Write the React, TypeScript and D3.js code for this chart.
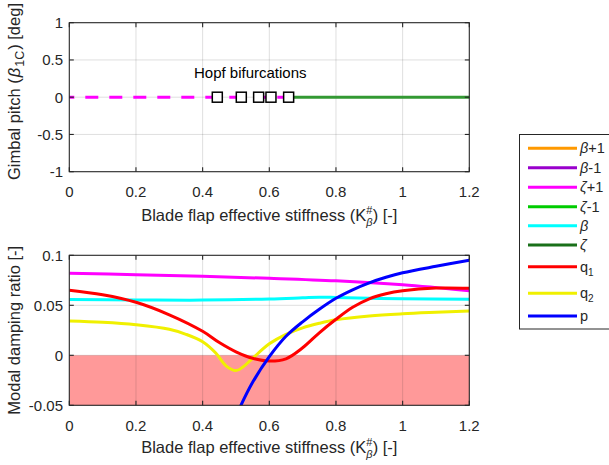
import React from "react";
import * as d3 from "d3";

// ---------- data ----------
const xTicks = [0, 0.2, 0.4, 0.6, 0.8, 1, 1.2];
const xTickLabels = ["0", "0.2", "0.4", "0.6", "0.8", "1", "1.2"];
const topYTicks = [-1, -0.5, 0, 0.5, 1];
const topYTickLabels = ["-1", "-0.5", "0", "0.5", "1"];
const botYTicks = [-0.05, 0, 0.05, 0.1];
const botYTickLabels = ["-0.05", "0", "0.05", "0.1"];

// top plot: equilibrium branches
const unstableK = [0, 0.66];
const stableK = [0.66, 1.2];
const hopfK = [0.444, 0.516, 0.568, 0.605, 0.658];

// bottom plot: modal damping ratios
const zetaPlusK = [0, 0.2, 0.4, 0.6, 0.8, 1.0, 1.2];
const zetaPlusV = [0.082, 0.0806, 0.079, 0.077, 0.0745, 0.0705, 0.0645];

const betaK = [0, 0.2, 0.4, 0.6, 0.7, 0.75, 0.8, 0.9, 1.0, 1.2];
const betaV = [0.0557, 0.0554, 0.0552, 0.0563, 0.0575, 0.0581, 0.0578, 0.057, 0.0565, 0.056];

const q1K = [0, 0.1, 0.2, 0.3, 0.4, 0.45, 0.5, 0.55, 0.6, 0.65, 0.7, 0.75, 0.8, 0.85, 0.9, 0.95, 1.0, 1.1, 1.2];
const q1V = [0.065, 0.0605, 0.053, 0.0405, 0.024, 0.0128, 0.0035, -0.003, -0.0058, -0.0035, 0.0075, 0.0225, 0.036, 0.048, 0.0565, 0.0615, 0.0645, 0.0672, 0.067];

const q2K = [0, 0.1, 0.2, 0.3, 0.35, 0.4, 0.44, 0.47, 0.5, 0.52, 0.55, 0.6, 0.65, 0.7, 0.75, 0.8, 0.9, 1.0, 1.1, 1.2];
const q2V = [0.0343, 0.033, 0.0305, 0.026, 0.021, 0.0135, 0.002, -0.0105, -0.0153, -0.012, -0.003, 0.0115, 0.021, 0.0275, 0.032, 0.0355, 0.0393, 0.0415, 0.043, 0.0443];

const pK = [0.512, 0.55, 0.6, 0.65, 0.7, 0.75, 0.8, 0.85, 0.9, 0.95, 1.0, 1.1, 1.2];
const pV = [-0.052, -0.027, -0.0014, 0.019, 0.0335, 0.046, 0.057, 0.0655, 0.0725, 0.078, 0.0825, 0.089, 0.095];

const legendLabels = ["β+1", "β-1", "ζ+1", "ζ-1", "β", "ζ", "q1", "q2", "p"];
const legendColors = ["#ff9900", "#9900cc", "#ff00ff", "#00cc00", "#00ffff", "#1a701a", "#ff0000", "#f0f000", "#0000ff"];

// ---------- layout ----------
const FONT = "'Liberation Sans', Arial, Helvetica, sans-serif";
const AX = "#262626";
const GRID = "rgba(38,38,38,0.15)";
const X0 = 69.3, X1 = 469.3;

const x = d3.scaleLinear().domain([0, 1.2]).range([X0, X1]);
const yTop = d3.scaleLinear().domain([-1, 1]).range([171.7, 22.7]);
const yBot = d3.scaleLinear().domain([-0.05, 0.1]).range([405.3, 255.3]);

function zip(k: number[], v: number[]) {
  return k.map((kk, i) => [kk, v[i]] as [number, number]);
}

const lineBot = d3
  .line<[number, number]>()
  .x((d) => x(d[0]))
  .y((d) => yBot(d[1]))
  .curve(d3.curveCatmullRom.alpha(0.5));

const lineTop = d3
  .line<[number, number]>()
  .x((d) => x(d[0]))
  .y((d) => yTop(d[1]));

function Grid({ y, yTicks }: { y: d3.ScaleLinear<number, number>; yTicks: number[] }) {
  const [yb, yt] = y.range();
  return (
    <g>
      {xTicks.slice(1, -1).map((t) => (
        <line key={"gx" + t} x1={x(t)} x2={x(t)} y1={yt} y2={yb} stroke={GRID} strokeWidth={1} />
      ))}
      {yTicks.slice(1, -1).map((t) => (
        <line key={"gy" + t} x1={X0} x2={X1} y1={y(t)} y2={y(t)} stroke={GRID} strokeWidth={1} />
      ))}
    </g>
  );
}

function Frame({ y, yTicks, yLabels, labelBaseline }: { y: d3.ScaleLinear<number, number>; yTicks: number[]; yLabels: string[]; labelBaseline: number }) {
  const [yb, yt] = y.range();
  const tl = 4.5;
  return (
    <g>
      <rect x={X0} y={yt} width={X1 - X0} height={yb - yt} fill="none" stroke={AX} strokeWidth={1.1} />
      {xTicks.map((t, i) => (
        <g key={"xt" + i}>
          <line x1={x(t)} x2={x(t)} y1={yb} y2={yb - tl} stroke={AX} strokeWidth={1.1} />
          <line x1={x(t)} x2={x(t)} y1={yt} y2={yt + tl} stroke={AX} strokeWidth={1.1} />
          <text x={x(t)} y={yb + 25.5} textAnchor="middle" fontSize={15} fill={AX} fontFamily={FONT}>
            {xTickLabels[i]}
          </text>
        </g>
      ))}
      {yTicks.map((t, i) => (
        <g key={"yt" + i}>
          <line x1={X0} x2={X0 + tl} y1={y(t)} y2={y(t)} stroke={AX} strokeWidth={1.1} />
          <line x1={X1} x2={X1 - tl} y1={y(t)} y2={y(t)} stroke={AX} strokeWidth={1.1} />
          <text x={63} y={y(t) + 5.3} textAnchor="end" fontSize={15} fill={AX} fontFamily={FONT}>
            {yLabels[i]}
          </text>
        </g>
      ))}
      <text x={(X0 + X1) / 2} y={labelBaseline} textAnchor="middle" fontSize={16.5} fill={AX} fontFamily={FONT}>
        Blade flap effective stiffness (K
        <tspan fontSize={11} dy={-7}>#</tspan>
        <tspan fontSize={11} dx={-6} dy={12} fontStyle="italic">β</tspan>
        <tspan dy={-5}>) [-]</tspan>
      </text>
    </g>
  );
}

export default function App() {
  const yBotMid = (yBot.range()[0] + yBot.range()[1]) / 2;
  const legendY = [148.3, 167.7, 187.3, 206.7, 225.7, 245, 266.7, 293.3, 316];
  return (
    <svg width={609} height={465} style={{ position: "absolute", left: 0, top: 0, background: "#fff" }}>
      <defs>
        <clipPath id="clipBot">
          <rect x={X0} y={yBot(0.1)} width={X1 - X0} height={yBot(-0.05) - yBot(0.1)} />
        </clipPath>
      </defs>
      <rect x={0} y={0} width={609} height={465} fill="#fff" />

      {/* ---------- top plot ---------- */}
      <Grid y={yTop} yTicks={topYTicks} />
      <path
        d={lineTop(unstableK.map((k) => [k, 0] as [number, number])) || ""}
        stroke="#ff00ff"
        strokeWidth={3}
        fill="none"
        strokeDasharray="13,11"
        strokeDashoffset={8}
      />
      <path d={lineTop(stableK.map((k) => [k, 0] as [number, number])) || ""} stroke="#339933" strokeWidth={3} fill="none" />
      {hopfK.map((k, i) => (
        <rect key={"h" + i} x={x(k) - 5} y={yTop(0) - 5} width={10} height={10} fill="#fff" stroke="#000" strokeWidth={1.5} />
      ))}
      <text x={194} y={78} fontSize={15} fill="#000" fontFamily={FONT}>
        Hopf bifurcations
      </text>
      <Frame y={yTop} yTicks={topYTicks} yLabels={topYTickLabels} labelBaseline={220.5} />
      <text
        transform={`translate(20,180) rotate(-90)`}
        textAnchor="start"
        fontSize={16.5}
        fill={AX}
        fontFamily={FONT}
      >
        Gimbal pitch (<tspan fontStyle="italic" dx={1}>β</tspan>
        <tspan fontSize={12.5} dx={1} dy={4}>1C</tspan>
        <tspan dx={1} dy={-4}>) [deg]</tspan>
      </text>

      {/* ---------- bottom plot ---------- */}
      <rect x={x(0)} y={yBot(0)} width={x(1.2) - x(0)} height={yBot(-0.05) - yBot(0)} fill="#ff9999" />
      <Grid y={yBot} yTicks={botYTicks} />
      <g clipPath="url(#clipBot)" fill="none" strokeWidth={3} strokeLinejoin="round">
        <path d={lineBot(zip(zetaPlusK, zetaPlusV)) || ""} stroke="#ff00ff" />
        <path d={lineBot(zip(betaK, betaV)) || ""} stroke="#00ffff" />
        <path d={lineBot(zip(q2K, q2V)) || ""} stroke="#f0f000" />
        <path d={lineBot(zip(q1K, q1V)) || ""} stroke="#ff0000" />
        <path d={lineBot(zip(pK, pV)) || ""} stroke="#0000ff" />
      </g>
      <Frame y={yBot} yTicks={botYTicks} yLabels={botYTickLabels} labelBaseline={453} />
      <text
        transform={`translate(19.5,${yBotMid}) rotate(-90)`}
        textAnchor="middle"
        fontSize={16.5}
        fill={AX}
        fontFamily={FONT}
      >
        Modal damping ratio [-]
      </text>

      {/* ---------- legend ---------- */}
      <rect x={519.5} y={134.5} width={110} height={194.5} fill="#fff" stroke={AX} strokeWidth={1} />
      {legendLabels.map((lab, i) => {
        const ly = legendY[i];
        const greek = lab[0] === "β" || lab[0] === "ζ";
        const isQ = lab[0] === "q";
        return (
          <g key={"lg" + i}>
            <line x1={528} x2={577} y1={ly} y2={ly} stroke={legendColors[i]} strokeWidth={3} />
            <text x={580} y={ly + 5} fontSize={14.5} fill={AX} fontFamily={FONT}>
              {greek ? (
                <>
                  <tspan fontStyle="italic">{lab[0]}</tspan>
                  {lab.slice(1)}
                </>
              ) : isQ ? (
                <>
                  q<tspan fontSize={10} dy={4}>{lab.slice(1)}</tspan>
                </>
              ) : (
                lab
              )}
            </text>
          </g>
        );
      })}
    </svg>
  );
}
